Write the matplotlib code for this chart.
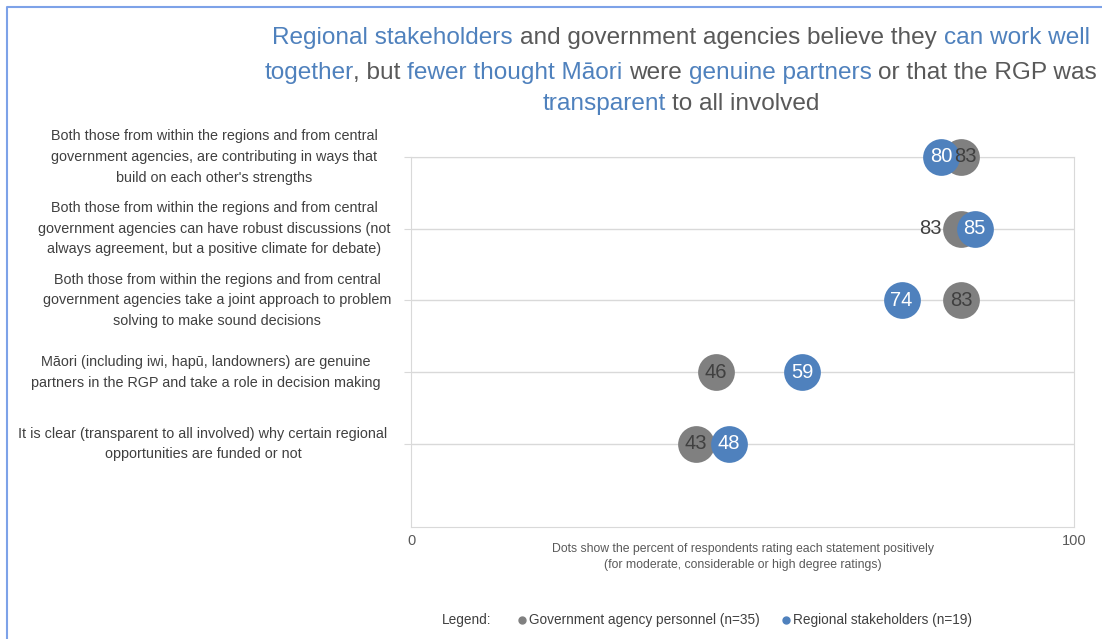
import matplotlib
matplotlib.use("Agg")
import matplotlib.pyplot as plt
from matplotlib.lines import Line2D
from matplotlib.font_manager import FontProperties

# data
statements = [
    "Both those from within the regions and from central\ngovernment agencies, are contributing in ways that\nbuild on each other's strengths",
    "Both those from within the regions and from central\ngovernment agencies can have robust discussions (not\nalways agreement, but a positive climate for debate)",
    "Both those from within the regions and from central\ngovernment agencies take a joint approach to problem\nsolving to make sound decisions",
    "Māori (including iwi, hapū, landowners) are genuine\npartners in the RGP and take a role in decision making",
    "It is clear (transparent to all involved) why certain regional\nopportunities are funded or not",
]
govt = [83, 83, 83, 46, 43]
regional = [80, 85, 74, 59, 48]
ypos = [5, 4, 3, 2, 1]

BLUE = "#4F81BD"
GREY = "#808080"
TXT = "#595959"
FONT = ["Liberation Sans", "DejaVu Sans"]

W, H = 1102, 639
fig = plt.figure(figsize=(W / 100, H / 100), dpi=100)
ax = fig.add_axes([411 / W, 1 - 527 / H, (1074 - 411) / W, (527 - 157) / H])

ax.set_xlim(0, 100)
ax.set_ylim(-0.157, 5)
for s in ax.spines.values():
    s.set_color("#D9D9D9")
ax.set_yticks(ypos)
ax.set_yticklabels([])
ax.tick_params(axis="y", length=5, color="#D9D9D9")
ax.set_xticks([0, 100])
ax.set_xticklabels(["0", "100"], family=FONT, fontsize=10.5, color=TXT)
ax.tick_params(axis="x", length=0, pad=5)
ax.grid(axis="y", color="#D9D9D9", lw=1)
ax.set_axisbelow(True)

ax.scatter(govt, ypos, s=700, color=GREY, zorder=3, clip_on=False, lw=0)
ax.scatter(regional, ypos, s=700, color=BLUE, zorder=4, clip_on=False, lw=0)

# value labels
for i, (g, r, y) in enumerate(zip(govt, regional, ypos)):
    if i == 1:
        # grey label sits left of the dot
        ax.text(g - 2.9, y, str(g), ha="right", va="center", fontsize=14.5,
                family=FONT, color="#404040", zorder=5)
    else:
        ax.text(g + (0.6 if i == 0 else 0), y, str(g), ha="center", va="center",
                fontsize=14.5, family=FONT, color="#404040", zorder=5)
    ax.text(r, y, str(r), ha="center", va="center", fontsize=14.5,
            family=FONT, color="white", zorder=6)

# category labels (text boxes are not all centred on the same x)
label_dx = [-197, -197, -194, -205, -208]
for lab, y, dx in zip(statements, ypos, label_dx):
    ax.annotate(lab, xy=(0, y), xycoords=("axes fraction", "data"),
                xytext=(dx, 0), textcoords="offset pixels",
                ha="center", va="center", multialignment="center",
                fontsize=10.4, family=FONT, color="#404040", linespacing=1.6)

ax.set_xlabel("Dots show the percent of respondents rating each statement positively\n"
              "(for moderate, considerable or high degree ratings)",
              family=FONT, fontsize=8.8, color=TXT, labelpad=-3.5, linespacing=1.45)

# title with coloured words
title_lines = [
    [("Regional stakeholders", BLUE), (" and government agencies believe they ", TXT),
     ("can work well", BLUE)],
    [("together", BLUE), (", but ", TXT), ("fewer thought Māori", BLUE), (" were ", TXT),
     ("genuine partners", BLUE), (" or that the RGP was", TXT)],
    [("transparent", BLUE), (" to all involved", TXT)],
]
title_y = [38, 73, 104]
fp = FontProperties(family=FONT, size=17.6)
renderer = fig.canvas.get_renderer()


def width(s):
    return renderer.get_text_width_height_descent(s, fp, ismath=False)[0]


cx = 681
for pieces, ty in zip(title_lines, title_y):
    line = "".join(p for p, c in pieces)
    left = cx - width(line) / 2
    pos = 0
    for p, c in pieces:
        stripped = p.lstrip()
        start = pos + len(p) - len(stripped)
        pos += len(p)
        stripped = stripped.rstrip()
        if not stripped:
            continue
        off = width(line[:start] + stripped[0]) - width(stripped[0]) if start else 0
        fig.text((left + off) / W, 1 - ty / H, stripped, fontproperties=fp,
                 color=c, ha="left", va="center")

# legend
fig.text(442 / W, 1 - 620 / H, "Legend:", family=FONT, fontsize=9.8, color="#404040", va="center")
fig.add_artist(Line2D([522 / W], [1 - 620 / H], marker="o", ms=5, color=GREY, lw=0,
                      transform=fig.transFigure))
fig.text(529 / W, 1 - 620 / H, "Government agency personnel (n=35)", family=FONT,
         fontsize=9.8, color="#404040", va="center")
fig.add_artist(Line2D([786 / W], [1 - 620 / H], marker="o", ms=5, color=BLUE, lw=0,
                      transform=fig.transFigure))
fig.text(793 / W, 1 - 620 / H, "Regional stakeholders (n=19)", family=FONT,
         fontsize=9.8, color="#404040", va="center")

# light blue frame on top and left
fig.add_artist(Line2D([6.5 / W, 6.5 / W, 1], [0, 1 - 6.5 / H, 1 - 6.5 / H], color="#7DA2E8",
                      lw=1.5, transform=fig.transFigure))

fig.savefig("out.png", dpi=100)
